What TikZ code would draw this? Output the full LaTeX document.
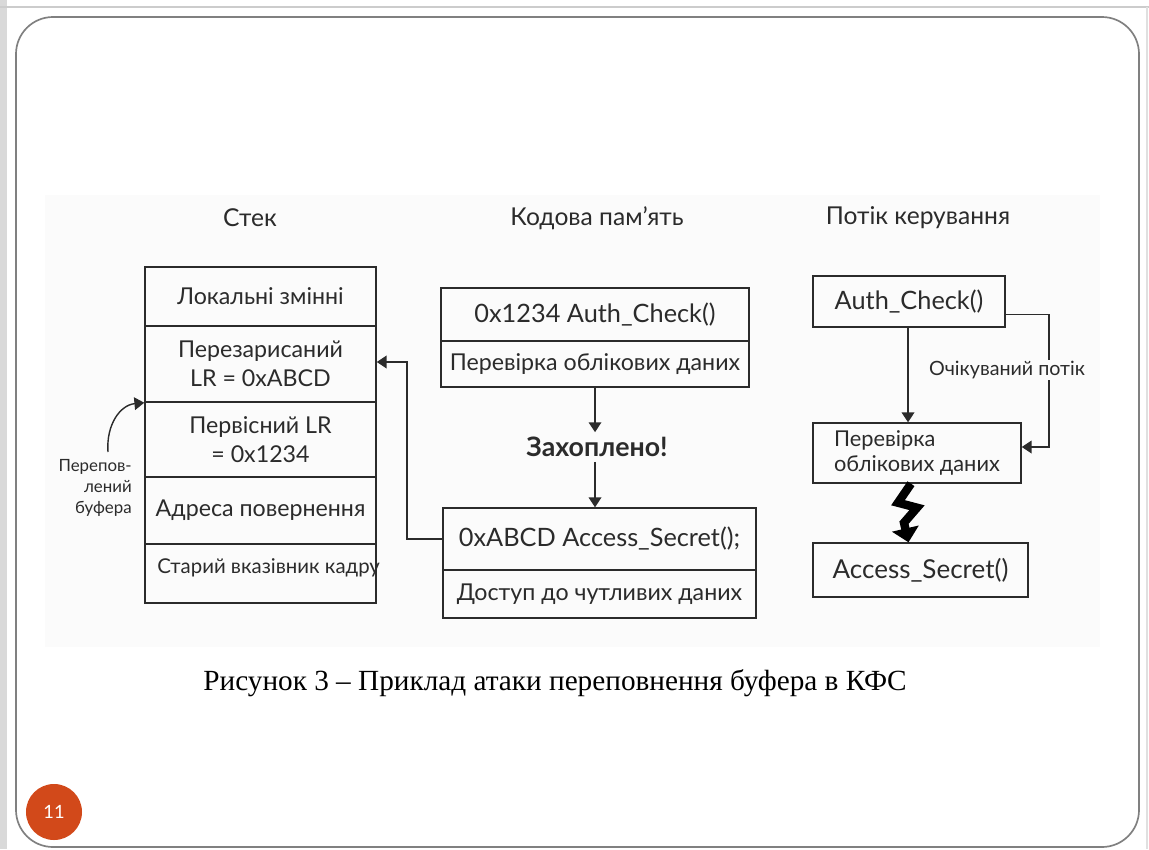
\documentclass[tikz,border=0pt]{standalone}
\usepackage{fontspec}
\setmainfont{Lato}
\newfontfamily\capfont{Liberation Serif}
\usetikzlibrary{arrows.meta,positioning}

\definecolor{slidenum}{HTML}{D2491A}
\definecolor{framegray}{HTML}{808080}
\definecolor{figbg}{HTML}{FBFBFB}
\definecolor{ink}{HTML}{2B2B2B}

\begin{document}
\begin{tikzpicture}[
    x=0.025cm, y=-0.025cm,
    title/.style ={font=\fontsize{17.5}{20}\selectfont, text=ink},
    cell/.style  ={draw=ink, line width=1pt, inner sep=0pt, align=center, text=ink,
                   font=\fontsize{16.5}{21}\selectfont},
    latin/.style ={font=\fontsize{18}{21}\selectfont},
    stackcell/.style={cell, minimum width=5.775cm},
    arr/.style   ={draw=ink, line width=1pt, -{Triangle[length=7pt,width=9pt]}},
    bolt/.style  ={draw=black, line width=6pt, -{Triangle[length=10pt,width=19pt]}},
    note/.style  ={font=\fontsize{12}{15}\selectfont, align=right, text=ink}
]
\useasboundingbox (0,0) rectangle (1149,849);

% Slide frame
\fill[black!15] (0,0) rectangle (7,849);
\draw[black!20, line width=1pt] (0,7) -- (1149,7);
\draw[black!12, line width=1pt] (1147,7) -- (1147,849);
\draw[framegray, line width=1.2pt, rounded corners=0.925cm] (16,17) rectangle (1139,847);
\fill[figbg] (45,195) rectangle (1100,647);

% Column titles
\node[title] (tstack) at (250,218) {Стек};
\node[title] (tcode)  at (597,218) {Кодова пам’ять};
\node[title] (tflow)  at (918,218) {Потік керування};

% Stack
\node[stackcell, minimum height=1.475cm] (s1) at (260.5,296.5) {Локальні змінні};
\node[stackcell, minimum height=1.9cm]   (s2) at (260.5,364)   {Перезарисаний\\LR = 0xABCD};
\node[stackcell, minimum height=1.875cm] (s3) at (260.5,439.5) {Первісний LR\\= 0x1234};
\node[stackcell, minimum height=1.675cm] (s4) at (260.5,510.5) {Адреса повернення};
\node[stackcell, minimum height=1.475cm] (s5) at (260.5,573.5) {};
\node[font=\fontsize{14.5}{17}\selectfont, text=ink, anchor=west, inner sep=0pt]
     (s5t) at (157,568) {Старий вказівник кадру};

% Buffer overflow note
\node[note, anchor=north east, inner sep=0pt] (ovfl) at (132,459) {Перепов-\\лений\\буфера};
\coordinate (ovf) at (108,452);
\draw[arr] (ovf) .. controls (106,425) and (120,405) .. (s2.south west);

% Code memory
\node[cell, latin, minimum width=7.7cm, minimum height=1.325cm] (cm1a) at (595,314.5) {0x1234 Auth\_Check()};
\node[cell, minimum width=7.7cm, minimum height=1.15cm]   (cm1b) at (595,364)   {Перевірка облікових даних};
\node[font=\bfseries\fontsize{19}{22}\selectfont, text=ink] (hij) at (597,447) {Захоплено!};
\node[cell, latin, minimum width=7.825cm, minimum height=1.55cm] (cm2a) at (599.5,539) {0xABCD Access\_Secret();};
\node[cell, minimum width=7.825cm, minimum height=1.2cm]  (cm2b) at (599.5,594) {Доступ до чутливих даних};

\draw[arr] (cm1b.south) -- (cm1b.south |- hij.north);
\draw[arr] (hij.south -| cm1b.south) -- (cm1b.south |- cm2a.north);

% Jump back to the stack
\coordinate (jog) at (407,362);
\draw[arr] (cm2a.west) -| (jog) -- (jog -| s2.east);

% Control flow
\node[cell, latin, minimum width=4.8cm, minimum height=1.275cm] (cf1) at (909,301.5) {Auth\_Check()};
\node[cell, minimum width=5.2cm, minimum height=1.5cm, align=left,
      font=\fontsize{15.5}{18}\selectfont] (cf2) at (917,453) {Перевірка\\облікових даних};
\node[cell, font=\fontsize{18.5}{21}\selectfont, minimum width=5.375cm, minimum height=1.35cm] (cf3) at (920.5,570) {Access\_Secret()};

\draw[arr] ([xshift=-0.025cm]cf1.south) -- ([xshift=-0.025cm]cf1.south |- cf2.north);
\coordinate (bend) at (1049,447);
\draw[arr] ([yshift=-0.33cm]cf1.east) -| (bend) -- (bend -| cf2.east);
\node[fill=figbg, inner sep=1pt, font=\fontsize{14}{17}\selectfont, text=ink] (exp) at (1007,370) {Очікуваний потік};

% Hijacked jump
\draw[bolt] ([xshift=-0.15cm]cf2.south) -- ++(-13,19) -- ++(19,5) -- ++(-13,15) -- ([xshift=-0.3cm]cf3.north);

% Caption
\node[font=\capfont\fontsize{20.8}{24}\selectfont] (cap) at (555,683)
     {Рисунок 3 – Приклад атаки переповнення буфера в КФС};

% Slide number
\node[circle, fill=slidenum, minimum size=1.4cm, inner sep=0pt, text=white,
      font=\fontsize{13}{15}\selectfont] (num) at (54,812) {11};
\end{tikzpicture}
\end{document}
